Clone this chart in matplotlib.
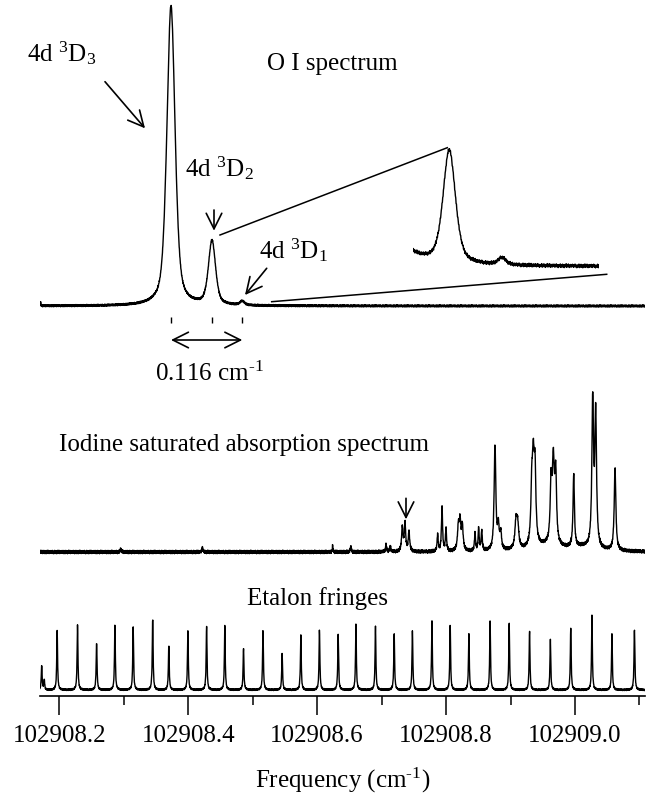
import numpy as np
import matplotlib
matplotlib.use("Agg")
import matplotlib.pyplot as plt
from matplotlib.lines import Line2D
from matplotlib.ticker import MultipleLocator, FormatStrFormatter

plt.rcParams['font.family'] = ['Liberation Serif', 'DejaVu Serif']
plt.rcParams['mathtext.fontset'] = 'custom'
plt.rcParams['mathtext.rm'] = 'Liberation Serif'
plt.rcParams['mathtext.it'] = 'Liberation Serif:italic'
plt.rcParams['mathtext.bf'] = 'Liberation Serif:bold'

# ---- data (frequency in cm-1, heights in pixels) ----
# O I spectrum: 4d 3D3, 3D2, 3D1 lines (plus the start-of-scan spike)
oi_centres = [102908.1712, 102908.3733, 102908.4369, 102908.4839]
oi_heights = [5, 300, 64, 4]
oi_widths = [0.0008, 0.015, 0.013, 0.008]

# iodine saturated absorption lines
iodine_centres = [102908.2954, 102908.4222, 102908.6241, 102908.6523,
                  102908.7069, 102908.7135,
                  102908.7321, 102908.7363, 102908.7425,
                  102908.7870, 102908.7937, 102908.7999,
                  102908.8190, 102908.8216, 102908.8252,
                  102908.8449, 102908.8506, 102908.8553,
                  102908.8759, 102908.8811, 102908.8848,
                  102908.9085, 102908.9111,
                  102908.9329, 102908.9353, 102908.9380,
                  102908.9628, 102908.9664, 102908.9701,
                  102908.9980, 102909.0275, 102909.0321, 102909.0621,
                  102908.9550, 102909.0100]
iodine_heights = [4, 5, 7, 6,
                  7, 5,
                  24, 28, 20,
                  17, 45, 23,
                  22, 28, 24,
                  17, 22, 20,
                  105, 22, 16,
                  26, 22,
                  45, 80, 65,
                  55, 80, 65,
                  72, 145, 133, 82,
                  5, 4]
iodine_widths = [0.0015, 0.0015, 0.001, 0.0015,
                 0.002, 0.002,
                 0.0025, 0.0025, 0.0025,
                 0.002, 0.002, 0.002,
                 0.003, 0.003, 0.003,
                 0.002, 0.002, 0.002,
                 0.003, 0.003, 0.003,
                 0.004, 0.004,
                 0.003, 0.004, 0.003,
                 0.003, 0.004, 0.003,
                 0.0025, 0.003, 0.003, 0.003,
                 0.05, 0.05]

# etalon transmission fringes
etalon_centres = [102908.1727, 102908.1767, 102908.1967, 102908.2283,
                  102908.2579, 102908.2863, 102908.3146, 102908.3449,
                  102908.3699, 102908.3995, 102908.4285, 102908.4568,
                  102908.4858, 102908.5160, 102908.5457, 102908.5747,
                  102908.6036, 102908.6326, 102908.6602, 102908.6905,
                  102908.7195, 102908.7478, 102908.7781, 102908.8064,
                  102908.8354, 102908.8683, 102908.8979, 102908.9295,
                  102908.9618, 102908.9934, 102909.0263, 102909.0573,
                  102909.0922]
etalon_heights = [25, 10, 60, 66, 48, 66, 64, 72, 45, 60, 64, 64, 42, 60, 37,
                  55, 60, 55, 66, 64, 57, 60, 70, 65, 57, 69, 67, 59, 50, 62,
                  74, 56, 62]
etalon_width = 0.0015

# detector noise pattern (pixels), repeated along the scan
noise = [0.3, -0.6, 0.9, -0.2, -0.9, 0.5, 0.1, -0.4, 0.8, -0.7, 0.2, 0.6,
         -0.3, -1.0, 0.4, 0.0, 0.7, -0.5, -0.1, 1.0, -0.8, 0.3, -0.2, 0.6,
         -0.6, 0.9, -0.3, 0.1, -0.9, 0.5, 0.2, -0.4, 0.7, -0.7, 0.0, 0.4,
         -0.1, 0.8, -0.5, 0.3, -0.8, 0.6, -0.2, 0.1, 0.9, -0.6, 0.4, -0.3,
         0.2, -1.0, 0.5, 0.0, -0.4]

major_ticks = 0.2
minor_ticks = 0.1
x_range = (102908.1701, 102909.1086)


def lorentz(x, c, h, w):
    return h / (1 + (2 * (x - c) / w) ** 2)


def gauss(x, c, h, w):
    return h * np.exp(-4 * np.log(2) * ((x - c) / w) ** 2)


def spectrum(x, centres, heights, widths, eta=1.0):
    y = np.zeros_like(x)
    for c, h, w in zip(centres, heights, widths):
        y += eta * lorentz(x, c, h, w) + (1 - eta) * gauss(x, c, h, w)
    return y


freq = np.linspace(x_range[0], x_range[1], 3000)
jitter = np.resize(np.array(noise), freq.size)

oi = spectrum(freq, oi_centres, oi_heights, oi_widths, eta=0.5) + 1.1 * jitter
iodine = spectrum(freq, iodine_centres, iodine_heights, iodine_widths) \
    + 1.8 * np.roll(jitter, 17)
etalon = spectrum(freq, etalon_centres, etalon_heights,
                  [etalon_width] * len(etalon_centres)) + 0.9 * np.roll(jitter, 31)

# ---- layout (all in pixels of a 665 x 800 image) ----
W, H = 665, 800
fig = plt.figure(figsize=(W / 100, H / 100), dpi=100)


def fx(px):
    return px / W


def fy(py):
    return 1 - py / H


ax_left, ax_right, ax_bottom = 40, 645, 696
ax = fig.add_axes([fx(ax_left), fy(ax_bottom), (ax_right - ax_left) / W, ax_bottom / H])
ax.patch.set_alpha(0)
ax.set_xlim(*x_range)
ax.set_ylim(0, ax_bottom)

oi_base, iodine_base, etalon_base = 390, 144, 6
ax.plot(freq, oi_base + oi, color='k', lw=1.0)
ax.plot(freq, iodine_base + iodine, color='k', lw=1.0)
ax.plot(freq, etalon_base + etalon, color='k', lw=1.0)

for s in ['left', 'right', 'top']:
    ax.spines[s].set_visible(False)
ax.spines['bottom'].set_linewidth(1.2)
ax.set_yticks([])
ax.xaxis.set_major_locator(MultipleLocator(major_ticks))
ax.xaxis.set_minor_locator(MultipleLocator(minor_ticks))
ax.xaxis.set_major_formatter(FormatStrFormatter('%.1f'))
ax.tick_params(axis='x', which='major', direction='out', length=13.7, width=1.1,
               labelsize=18, pad=7)
ax.tick_params(axis='x', which='minor', direction='out', length=6.5, width=1.1)
ax.set_xlabel(r'Frequency (cm$^{\text{-1}}$)', fontsize=18, labelpad=14)

# markers under the three O I lines and the splitting arrow
ax.vlines(oi_centres[1:], 373.3, 379.3, color='k', lw=1.0)
ax.annotate('', xy=(oi_centres[3], 356), xytext=(oi_centres[1], 356),
            xycoords='data', arrowprops=dict(arrowstyle='<->', lw=1.2,
                                             mutation_scale=28, shrinkA=0, shrinkB=0))

# inset: magnified view of the 3D2 / 3D1 lines
ax_in = fig.add_axes([fx(412.7), fy(280), (599.3 - 412.7) / W, 140 / H])
ax_in.plot(freq, oi, color='k', lw=1.0)
ax_in.set_xlim(102908.4044, 102908.5703)
ax_in.set_ylim(-7.63, 71.5)
ax_in.axis('off')

fig.add_artist(Line2D([fx(220), fx(447.3)], [fy(235), fy(147.7)], color='k', lw=1.1))
fig.add_artist(Line2D([fx(271.7), fx(606.7)], [fy(301.7), fy(274.3)], color='k', lw=1.1))


def arrow(x0, y0, x1, y1):
    ax.annotate('', xy=(x1, H - y1), xytext=(x0, H - y0), xycoords='figure pixels',
                arrowprops=dict(arrowstyle='->', lw=1.2, mutation_scale=28,
                                shrinkA=0, shrinkB=0))


arrow(105, 81.7, 145, 128.3)
arrow(214, 210, 214, 230.7)
arrow(266.7, 268.3, 245, 295)
arrow(406, 498.3, 406, 519.3)


def label(px, py, s, ha='left'):
    fig.text(fx(px), fy(py), s, fontsize=18, ha=ha, va='baseline')


label(27.3, 61.7, '4d $^{3}$D$_{3}$')
label(185, 176.7, '4d $^{3}$D$_{2}$')
label(259, 258, '4d $^{3}$D$_{1}$')
label(267, 70, 'O I spectrum')
label(209, 381, r'0.116 cm$^{\text{-1}}$', ha='center')
label(59.3, 450.7, 'Iodine saturated absorption spectrum')
label(246.8, 604.6, 'Etalon fringes')

fig.savefig('out.png', dpi=100)
